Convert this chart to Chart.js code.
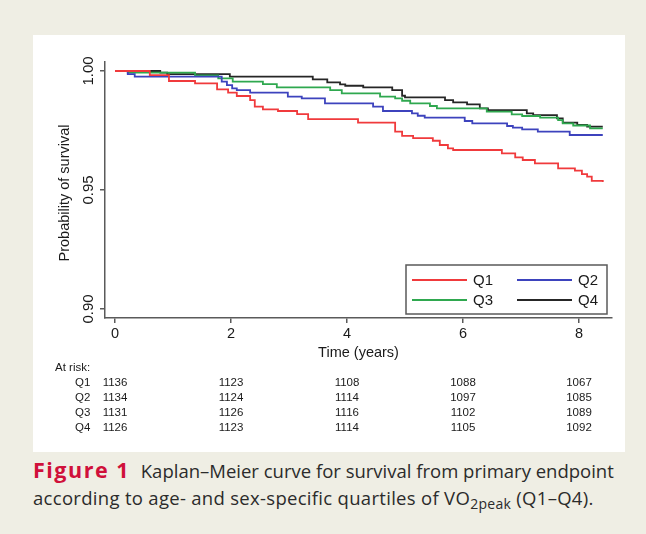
<!DOCTYPE html>
<html>
<head>
<meta charset="utf-8">
<script src="https://cdn.jsdelivr.net/npm/chart.js@4.4.0/dist/chart.umd.min.js"></script>
<style>
  html, body { margin: 0; padding: 0; width: 646px; height: 534px; overflow: hidden; background: #efeee4; }
  #panel { position: absolute; left: 33px; top: 35px; width: 592px; height: 417px; background: #ffffff; }
  #caption { position: absolute; left: 33px; top: 456px; width: 610px; font-family: "Open Sans", Lato, sans-serif;
             font-size: 18.5px; line-height: 27px; color: #2b2b2b; white-space: nowrap; }
  #caption .fig { color: #d0103a; font-weight: bold; font-size: 21.5px; letter-spacing: 1.5px; margin-right: 6px; }
  #caption .l2 { letter-spacing: 0.3px; }
  #caption sub { font-size: 14px; vertical-align: -4px; line-height: 0; }
</style>
</head>
<body>
<div id="panel"><canvas id="kmCanvas"></canvas></div>
<div id="caption"><span class="fig">Figure 1</span> Kaplan–Meier curve for survival from primary endpoint<br><span class="l2">according to age- and sex-specific quartiles of VO<sub>2peak</sub> (Q1–Q4).</span></div>
<script>
// Kaplan-Meier steps: time (years) and survival after each step
const groupLabels = ["Q1", "Q2", "Q3", "Q4"];
const groupColors = ["#f03a3c", "#3d43bd", "#2fa84f", "#262626"];

const q1Times = [0, 0.60, 0.93, 1.38, 1.76, 1.95, 2.10, 2.33, 2.41, 2.55, 2.81, 3.14, 3.33, 4.19, 4.83, 4.95, 5.14, 5.48, 5.60, 5.74, 5.83, 6.67, 6.90, 7.03, 7.24, 7.64, 7.93, 8.05, 8.14, 8.22, 8.41];
const q1Surv  = [1, 0.9983, 0.9958, 0.9948, 0.9923, 0.9909, 0.9895, 0.9878, 0.9850, 0.9839, 0.9832, 0.9819, 0.9798, 0.9783, 0.9745, 0.9727, 0.9718, 0.9707, 0.9689, 0.9675, 0.9668, 0.9654, 0.9637, 0.9626, 0.9612, 0.9591, 0.9581, 0.9567, 0.9556, 0.9538, 0.9534];

const q2Times = [0, 0.22, 0.34, 1.84, 1.93, 2.02, 2.10, 2.33, 2.98, 3.22, 3.62, 4.45, 4.62, 5.12, 5.22, 5.34, 6.03, 6.16, 6.76, 6.86, 7.02, 7.29, 7.84, 8.41];
const q2Surv  = [1, 0.9987, 0.9976, 0.9955, 0.9941, 0.9927, 0.9920, 0.9909, 0.9892, 0.9885, 0.9864, 0.9850, 0.9832, 0.9822, 0.9812, 0.9804, 0.9790, 0.9780, 0.9769, 0.9762, 0.9755, 0.9745, 0.9731, 0.9731];

const q3Times = [0, 0.22, 1.38, 1.78, 2.03, 2.55, 2.79, 3.71, 3.91, 4.57, 4.83, 4.95, 5.09, 5.43, 5.55, 6.41, 6.84, 7.02, 7.33, 7.64, 7.72, 7.90, 8.19, 8.41];
const q3Surv  = [1, 0.9993, 0.9982, 0.9969, 0.9955, 0.9945, 0.9931, 0.9920, 0.9906, 0.9892, 0.9885, 0.9875, 0.9864, 0.9853, 0.9843, 0.9829, 0.9818, 0.9811, 0.9804, 0.9794, 0.9780, 0.9771, 0.9759, 0.9759];

const q4Times = [0, 0.78, 0.90, 1.98, 3.41, 3.66, 3.88, 3.97, 4.28, 4.78, 4.95, 5.00, 5.69, 5.83, 6.07, 6.29, 6.43, 7.10, 7.21, 7.62, 7.72, 7.97, 8.14, 8.41];
const q4Surv  = [1, 0.9993, 0.9987, 0.9976, 0.9965, 0.9952, 0.9944, 0.9938, 0.9931, 0.9920, 0.9896, 0.9889, 0.9878, 0.9868, 0.9860, 0.9843, 0.9836, 0.9822, 0.9815, 0.9801, 0.9783, 0.9773, 0.9766, 0.9766];

// axis ticks
const xTickValues = [0, 2, 4, 6, 8];
const yTickValues = [0.90, 0.95, 1.00];

// numbers at risk, one column per x tick
const atRiskQ1 = [1136, 1123, 1108, 1088, 1067];
const atRiskQ2 = [1134, 1124, 1114, 1097, 1085];
const atRiskQ3 = [1131, 1126, 1116, 1102, 1089];
const atRiskQ4 = [1126, 1123, 1114, 1105, 1092];

const FONT = '"Liberation Sans", Arial, sans-serif';
const AXIS_COLOR = "#5a5a5a";
const TEXT_COLOR = "#1a1a1a";

function toPoints(times, surv) {
  return times.map((t, i) => ({ x: t, y: surv[i] }));
}

const curves = [
  toPoints(q1Times, q1Surv),
  toPoints(q2Times, q2Surv),
  toPoints(q3Times, q3Surv),
  toPoints(q4Times, q4Surv),
];

// Texts the scales cannot place themselves: rotated y labels, titles, legend box, at-risk table
const kmTextPlugin = {
  id: "kmText",
  afterDraw(chart) {
    const { ctx, chartArea, scales } = chart;
    const xs = scales.x;
    const ys = scales.y;
    ctx.save();
    ctx.fillStyle = TEXT_COLOR;

    // y tick labels, reading bottom to top
    ctx.font = `15px ${FONT}`;
    ctx.textAlign = "center";
    ctx.textBaseline = "middle";
    yTickValues.forEach((v) => {
      ctx.save();
      ctx.translate(56, ys.getPixelForValue(v));
      ctx.rotate(-Math.PI / 2);
      ctx.fillText(v.toFixed(2), 0, 0);
      ctx.restore();
    });

    // y title
    ctx.font = `14.5px ${FONT}`;
    ctx.save();
    ctx.translate(32, (chartArea.top + chartArea.bottom) / 2 + 3);
    ctx.rotate(-Math.PI / 2);
    ctx.fillText("Probability of survival", 0, 0);
    ctx.restore();

    // x title
    ctx.font = `14.5px ${FONT}`;
    ctx.fillText("Time (years)", (chartArea.left + chartArea.right) / 2, chartArea.bottom + 35);

    // legend box
    const bw = 201, bh = 49;
    const bx = chartArea.right - 5 - bw;
    const by = chartArea.bottom - 4 - bh;
    ctx.fillStyle = "#ffffff";
    ctx.fillRect(bx, by, bw, bh);
    ctx.strokeStyle = AXIS_COLOR;
    ctx.lineWidth = 1.5;
    ctx.strokeRect(bx, by, bw, bh);
    ctx.font = `15px ${FONT}`;
    ctx.textAlign = "left";
    chart.data.datasets.forEach((ds, i) => {
      const col = i % 2;
      const row = Math.floor(i / 2);
      const lx = bx + 6 + col * 105;
      const ly = by + 15 + row * 20;
      ctx.strokeStyle = ds.borderColor;
      ctx.lineWidth = 1.8;
      ctx.beginPath();
      ctx.moveTo(lx, ly);
      ctx.lineTo(lx + 55, ly);
      ctx.stroke();
      ctx.fillStyle = TEXT_COLOR;
      ctx.fillText(ds.label, lx + 61, ly + 1);
    });

    // at-risk table
    ctx.font = `11.5px ${FONT}`;
    ctx.fillStyle = TEXT_COLOR;
    ctx.textAlign = "left";
    const tableTop = chartArea.bottom + 50;
    ctx.fillText("At risk:", 22, tableTop);
    [atRiskQ1, atRiskQ2, atRiskQ3, atRiskQ4].forEach((rowVals, r) => {
      const ry = tableTop + 15 * (r + 1);
      ctx.textAlign = "left";
      ctx.fillText(groupLabels[r], 42, ry);
      ctx.textAlign = "center";
      rowVals.forEach((n, c) => {
        ctx.fillText(String(n), xs.getPixelForValue(xTickValues[c]), ry);
      });
    });
    ctx.restore();
  },
};

const canvas = document.getElementById("kmCanvas");
canvas.width = 592;
canvas.height = 417;
canvas.style.width = "592px";
canvas.style.height = "417px";

new Chart(canvas, {
  type: "line",
  data: {
    datasets: curves.map((pts, i) => ({
      label: groupLabels[i],
      data: pts,
      borderColor: groupColors[i],
      backgroundColor: groupColors[i],
      borderWidth: 1.8,
      pointRadius: 0,
      stepped: "before",
      fill: false,
    })),
  },
  options: {
    responsive: false,
    animation: false,
    layout: { padding: { left: 0, top: 27, right: 13, bottom: 0 } },
    plugins: {
      legend: { display: false },
      tooltip: { enabled: false },
    },
    scales: {
      x: {
        type: "linear",
        min: -0.1724,
        max: 8.569,
        afterBuildTicks: (scale) => { scale.ticks = xTickValues.map((v) => ({ value: v })); },
        afterFit: (scale) => { scale.height = 134; },
        grid: { display: true, drawOnChartArea: false, drawTicks: true, tickLength: 5, color: AXIS_COLOR, lineWidth: 1.5 },
        border: { display: true, color: AXIS_COLOR, width: 1.5 },
        ticks: { color: TEXT_COLOR, font: { family: FONT, size: 14.5 }, padding: 2, maxRotation: 0 },
      },
      y: {
        type: "linear",
        min: 0.89622,
        max: 1.00378,
        afterBuildTicks: (scale) => { scale.ticks = yTickValues.map((v) => ({ value: v })); },
        afterFit: (scale) => { scale.width = 72; },
        grid: { display: true, drawOnChartArea: false, drawTicks: true, tickLength: 5, color: AXIS_COLOR, lineWidth: 1.5 },
        border: { display: true, color: AXIS_COLOR, width: 1.5 },
        ticks: { display: false },
      },
    },
  },
  plugins: [kmTextPlugin],
});
</script>
</body>
</html>
